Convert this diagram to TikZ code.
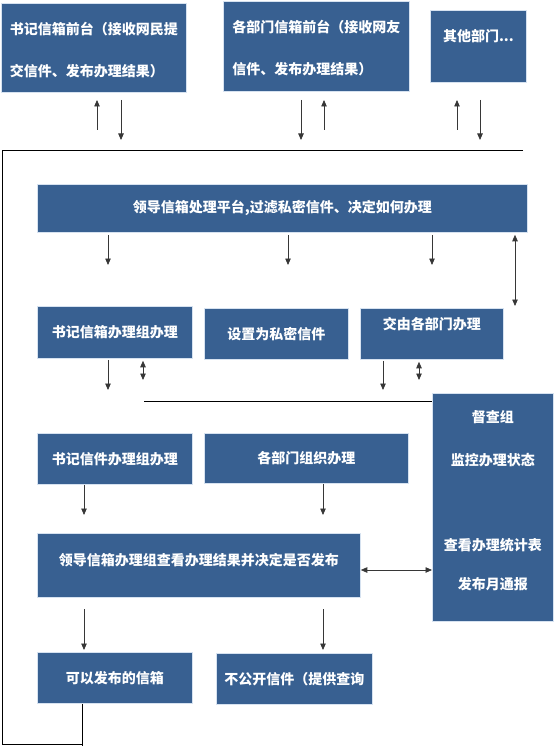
\documentclass[tikz,border=0pt]{standalone}
\usepackage{fontspec}
\newfontfamily\cjk{Noto Sans CJK SC}
\usetikzlibrary{arrows.meta}
\definecolor{boxblue}{RGB}{56,96,145}
\definecolor{boxedge}{RGB}{214,226,240}
\definecolor{arrgray}{RGB}{55,55,55}
\begin{document}
\begin{tikzpicture}[x=1pt,y=-1pt,
 box/.style={draw=boxedge, line width=0.8pt, fill=boxblue, text=white,
   font=\cjk\bfseries\fontsize{14}{17}\selectfont, anchor=north west,
   inner sep=0pt, align=center},
 arr/.style={draw=arrgray, line width=0.8pt, -{Triangle[width=5.5pt,length=6.5pt]}},
 darr/.style={draw=arrgray, line width=0.8pt,
   {Triangle[width=5.5pt,length=6.5pt]}-{Triangle[width=5.5pt,length=6.5pt]}},
 lin/.style={draw=black, line width=1pt}]
\useasboundingbox (0,0) rectangle (555,746);

% top row
\node[box, minimum width=185pt, minimum height=89pt, align=left] (b1) at (1,3)
  {\raisebox{-2pt}[\height][\depth]{书记信箱前台（接收网民提}\\[25pt]\raisebox{-2pt}[\height][\depth]{交信件、发布办理结果）}};
\node[box, minimum width=186pt, minimum height=90pt, align=left] (b2) at (223,1)
  {\raisebox{-2pt}[\height][\depth]{各部门信箱前台（接收网友}\\[25pt]\raisebox{-2pt}[\height][\depth]{信件、发布办理结果）}};
\node[box, minimum width=96pt, minimum height=72pt] (b3) at (430,10)
  {\raisebox{10pt}[\height][\depth]{其他部门...}};

% platform
\node[box, minimum width=490pt, minimum height=48pt] (plat) at (37,184)
  {领导信箱处理平台,过滤私密信件、决定如何办理};

% second row
\node[box, minimum width=155pt, minimum height=52pt] (r2a) at (37,306) {书记信箱办理组办理};
\node[box, minimum width=144pt, minimum height=51pt] (r2b) at (204,308) {设置为私密信件};
\node[box, minimum width=143pt, minimum height=51pt] (r2c) at (360,308)
  {\raisebox{10pt}[\height][\depth]{交由各部门办理}};

% supervision
\node[box, minimum width=121pt, minimum height=228pt] (sup) at (432,393)
  {\raisebox{7pt}[\height][\depth]{督查组}\\[26pt]\raisebox{7pt}[\height][\depth]{监控办理状态}\\[68pt]\raisebox{7pt}[\height][\depth]{查看办理统计表}\\[22pt]\raisebox{7pt}[\height][\depth]{发布月通报}};

% third row
\node[box, minimum width=155pt, minimum height=51pt] (r3a) at (37,433) {书记信件办理组办理};
\node[box, minimum width=204pt, minimum height=50pt] (r3b) at (204,433) {各部门组织办理};

% fourth row
\node[box, minimum width=323pt, minimum height=64pt] (r4) at (37,533)
  {\raisebox{5pt}[\height][\depth]{领导信箱办理组查看办理结果并决定是否发布}};

% fifth row
\node[box, minimum width=155pt, minimum height=51pt] (r5a) at (37,652) {可以发布的信箱};
\node[box, minimum width=156pt, minimum height=51pt] (r5b) at (216,653) {不公开信件（提供查询};

% frame lines
\coordinate (tl) at (2,151);
\coordinate (tr) at (523,151);
\coordinate (bl) at (2,744);
\coordinate (br) at (82,744);
\coordinate (bend) at (82,746);
\draw[lin] (tr) -- (tl) -- (bl) -- (br);
\draw[lin] (r5a.south -| bend) -- (bend);
\coordinate (ml) at (144,401);
\draw[lin] (ml) -- (ml -| sup.west);

% arrows under top row
\coordinate (u1a) at (97,130);  \coordinate (u1b) at (97,100);
\coordinate (d1a) at (121,100); \coordinate (d1b) at (121,140);
\coordinate (d2a) at (301,100); \coordinate (d2b) at (301,140);
\coordinate (u2a) at (324,130); \coordinate (u2b) at (324,100);
\coordinate (u3a) at (457,130); \coordinate (u3b) at (457,100);
\coordinate (d3a) at (480,100); \coordinate (d3b) at (480,140);
\draw[arr] (u1a) -- (u1b);
\draw[arr] (d1a) -- (d1b);
\draw[arr] (d2a) -- (d2b);
\draw[arr] (u2a) -- (u2b);
\draw[arr] (u3a) -- (u3b);
\draw[arr] (d3a) -- (d3b);

% arrows under platform
\coordinate (p1) at (108,265);
\coordinate (p2) at (288,265);
\coordinate (p3) at (432,265);
\coordinate (p4) at (515,306);
\draw[arr] (plat.south -| p1) ++(0,2) -- (p1);
\draw[arr] (plat.south -| p2) ++(0,2) -- (p2);
\draw[arr] (plat.south -| p3) ++(0,2) -- (p3);
\draw[darr] (plat.south -| p4) ++(0,2) -- (p4);

% arrows under second row
\coordinate (q1) at (108,390);
\coordinate (q2) at (143,380);
\coordinate (q3) at (383,390);
\coordinate (q4) at (419,380);
\draw[arr] (r2a.south -| q1) ++(0,1) -- (q1);
\draw[darr] (r2a.south -| q2) ++(0,2) -- (q2);
\draw[arr] (r2c.south -| q3) ++(0,1) -- (q3);
\draw[darr] (r2c.south -| q4) ++(0,2) -- (q4);

% arrows under third row
\coordinate (s1) at (84,515);
\coordinate (s2) at (323,515);
\draw[arr] (r3a.south -| s1) -- (s1);
\draw[arr] (r3b.south -| s2) -- (s2);

% horizontal double arrow
\coordinate (hy) at (0,570);
\draw[darr] (r4.east |- hy) -- (sup.west |- hy);

% arrows under fourth row
\coordinate (t1a) at (84,609); \coordinate (t1b) at (84,650);
\coordinate (t2a) at (323,609); \coordinate (t2b) at (323,650);
\draw[arr] (t1a) -- (t1b);
\draw[arr] (t2a) -- (t2b);
\end{tikzpicture}
\end{document}
